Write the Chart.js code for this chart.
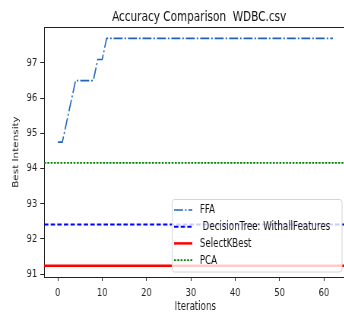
<!DOCTYPE html>
<html>
<head>
<meta charset="utf-8">
<script src="https://cdn.jsdelivr.net/npm/chart.js@4"></script>
<style>
  html, body { margin:0; padding:0; background:#fff; overflow:hidden; }
  /* the reference is a horizontally squeezed figure, so draw wide and squeeze */
  #wrap { width:456px; height:312px; transform: scaleX(0.76); transform-origin: 0 0; }
</style>
</head>
<body>
<div id="wrap"><canvas id="accChart" width="456" height="312"></canvas></div>
<script>
var chartTitle = 'Accuracy Comparison  WDBC.csv'
var xTitle = 'Iterations'
var yTitle = 'Best Intensity'
var xTicks = [0, 10, 20, 30, 40, 50, 60]
var yTicks = [91, 92, 93, 94, 95, 96, 97]
var xRange = [-3.1, 65.1]
var yRange = [90.917, 98.023]

var ffaIters = [0, 1, 4, 8, 9, 10, 11, 62]
var ffaScores = [94.75, 94.75, 96.5, 96.5, 97.1, 97.1, 97.7, 97.7]
var decisionTreeScore = 92.41
var selectKBestScore = 91.24
var pcaScore = 94.16
var seriesLabels = ['FFA', ' DecisionTree: WithallFeatures', 'SelectKBest', 'PCA']

var FONT = "'DejaVu Sans', sans-serif"

function flat(v){
  return xRange.map(function(x){ return { x: x, y: v } })
}

// title, top frame and the legend box are drawn by hand, matplotlib style
var mplDecor = {
  id: 'mplDecor',
  afterDatasetsDraw: function(chart){
    var ctx = chart.ctx, a = chart.chartArea
    ctx.save()
    ctx.strokeStyle = '#222'
    ctx.lineWidth = 1
    ctx.beginPath()
    ctx.moveTo(a.left, a.top + 0.5)
    ctx.lineTo(a.right, a.top + 0.5)
    ctx.stroke()

    // legend
    var sets = chart.data.datasets
    var rowH = 16.7, bh = 72.5
    var bx = 226, by = a.bottom - 5.5 - bh
    var bw = a.right - 6.5 - bx
    ctx.fillStyle = 'rgba(255,255,255,0.8)'
    ctx.strokeStyle = '#d4d4d4'
    ctx.beginPath()
    ctx.roundRect(bx + 0.5, by + 0.5, bw, bh, 3)
    ctx.fill()
    ctx.stroke()
    ctx.font = '11.4px ' + FONT
    ctx.textBaseline = 'middle'
    sets.forEach(function(ds, i){
      var cy = by + 11 + rowH * i
      ctx.strokeStyle = ds.borderColor
      ctx.lineWidth = ds.borderWidth
      ctx.setLineDash(ds.borderDash || [])
      ctx.beginPath()
      ctx.moveTo(bx + 3, cy)
      ctx.lineTo(bx + 27, cy)
      ctx.stroke()
      ctx.setLineDash([])
      ctx.fillStyle = '#111'
      ctx.fillText(ds.label, bx + 37, cy + 0.5)
    })

    // title
    ctx.font = '13.8px ' + FONT
    ctx.textAlign = 'center'
    ctx.textBaseline = 'alphabetic'
    ctx.fillStyle = '#111'
    ctx.fillText(chartTitle, (a.left + a.right) / 2 + 5, 20.5)
    ctx.restore()
  }
}

new Chart(document.getElementById('accChart'), {
  type: 'line',
  data: {
    datasets: [{
      label: seriesLabels[0],
      data: ffaIters.map(function(x, i){ return { x: x, y: ffaScores[i] } }),
      borderColor: '#1f64b8',
      borderWidth: 1.6,
      borderDash: [11.8, 2.6, 2, 2.6]
    }, {
      label: seriesLabels[1],
      data: flat(decisionTreeScore),
      borderColor: '#0000ff',
      borderWidth: 2,
      borderDash: [5.7, 3]
    }, {
      label: seriesLabels[2],
      data: flat(selectKBestScore),
      borderColor: '#ff0000',
      borderWidth: 2.5
    }, {
      label: seriesLabels[3],
      data: flat(pcaScore),
      borderColor: '#008000',
      borderWidth: 1.6,
      borderDash: [2.6, 1.7]
    }]
  },
  options: {
    responsive: false,
    animation: false,
    elements: { point: { radius: 0 }, line: { tension: 0, fill: false } },
    layout: { padding: { top: 27, right: 0, left: 0, bottom: 0 } },
    plugins: { legend: { display: false }, tooltip: { enabled: false }, title: { display: false } },
    scales: {
      x: {
        type: 'linear',
        min: xRange[0], max: xRange[1],
        afterBuildTicks: function(s){ s.ticks = xTicks.map(function(v){ return { value: v } }) },
        afterFit: function(s){ s.height = 35 },
        grid: { display: true, drawOnChartArea: false, tickLength: 4, tickColor: '#222' },
        border: { display: true, color: '#222' },
        ticks: { color: '#222', padding: 6, maxRotation: 0, font: { family: FONT, size: 11 } },
        title: { display: true, text: xTitle, color: '#222', padding: { top: 0, bottom: -2 }, font: { family: FONT, size: 11.4 } }
      },
      y: {
        min: yRange[0], max: yRange[1],
        afterBuildTicks: function(s){ s.ticks = yTicks.map(function(v){ return { value: v } }) },
        afterFit: function(s){ s.width = 58 },
        grid: { display: true, drawOnChartArea: false, tickLength: 5, tickColor: '#222' },
        border: { display: true, color: '#222' },
        ticks: { color: '#222', padding: 4, font: { family: FONT, size: 11 } },
        title: { display: true, text: yTitle, color: '#222', padding: { top: 15, bottom: 0 }, font: { family: FONT, size: 10.4 } }
      }
    }
  },
  plugins: [mplDecor]
})
</script>
</body>
</html>
